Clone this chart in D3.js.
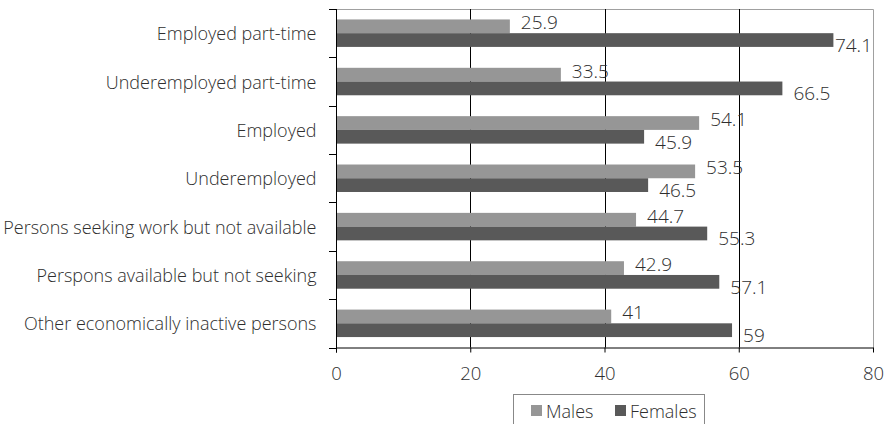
<!DOCTYPE html>
<html>
<head>
<meta charset="utf-8">
<script src="https://cdn.jsdelivr.net/npm/d3@7"></script>
<style>
  html, body { margin: 0; padding: 0; background: #fff; }
  svg { display: block; }
  text { font-family: "Open Sans", "Segoe UI", sans-serif; font-weight: 300; fill: #2e2e2e; }
</style>
</head>
<body>
<svg id="chart" width="889" height="424"></svg>
<script>
// Labour-force status by sex (percent)
const categories = [
  "Employed part-time",
  "Underemployed part-time",
  "Employed",
  "Underemployed",
  "Persons seeking work but not available",
  "Perspons available but not seeking",
  "Other economically inactive persons"
];
const males   = [25.9, 33.5, 54.1, 53.5, 44.7, 42.9, 41];
const females = [74.1, 66.5, 45.9, 46.5, 55.3, 57.1, 59];
const seriesNames = ["Males", "Females"];
const xTicks = [0, 20, 40, 60, 80];

const colors = { Males: "#969696", Females: "#595959" };

const svg = d3.select("#chart");
const plot = { left: 336, right: 874, top: 9, bottom: 347.5 };

const x = d3.scaleLinear().domain([0, 80]).range([plot.left, plot.right - 1]);
const y = d3.scaleBand().domain(categories).range([plot.top, plot.bottom]).padding(0);
const ySub = d3.scaleBand().domain(seriesNames)
  .range([0, y.bandwidth()]).paddingInner(0).paddingOuter(0.76);

const rows = categories.map((c, i) => ({ category: c, Males: males[i], Females: females[i] }));

// plot frame (top and right edges)
svg.append("path")
  .attr("d", `M${plot.left},${plot.top + 0.5}H${plot.right - 0.5}V${plot.bottom}`)
  .attr("fill", "none").attr("stroke", "#a0a0a0").attr("stroke-width", 1);

// vertical gridlines
svg.append("g").selectAll("line")
  .data(xTicks.filter(t => t > 0 && t < 80))
  .join("line")
  .attr("x1", d => Math.round(x(d)) + 0.5).attr("x2", d => Math.round(x(d)) + 0.5)
  .attr("y1", plot.top).attr("y2", plot.bottom)
  .attr("stroke", "#000").attr("stroke-width", 1);

// bars
const groups = svg.append("g").selectAll("g")
  .data(rows).join("g")
  .attr("transform", d => `translate(0,${y(d.category)})`);

groups.selectAll("rect")
  .data(d => seriesNames.map(s => ({ series: s, value: d[s] })))
  .join("rect")
  .attr("x", x(0))
  .attr("y", d => ySub(d.series))
  .attr("width", d => x(d.value) - x(0))
  .attr("height", ySub.bandwidth())
  .attr("fill", d => colors[d.series]);

// value labels, kept inside the plot area
const labelNudge = { Males: -4, Females: 5 };
groups.selectAll("text.val")
  .data(d => seriesNames.map(s => ({ series: s, value: d[s] })))
  .join("text")
  .attr("class", "val")
  .attr("font-size", 19)
  .attr("dominant-baseline", "central")
  .attr("y", d => ySub(d.series) + ySub.bandwidth() / 2 + labelNudge[d.series])
  .text(d => String(d.value))
  .each(function (d) {
    const w = this.getComputedTextLength();
    let lx = x(d.value) + 11;
    if (lx + w > plot.right - 2) lx = plot.right - 2 - w;
    d3.select(this).attr("x", lx);
  });

// bottom axis
const xAxis = svg.append("g")
  .attr("transform", `translate(0,${plot.bottom})`)
  .call(d3.axisBottom(x).tickValues(xTicks).tickSizeOuter(0).tickSizeInner(5).tickPadding(14));
xAxis.select(".domain").attr("stroke", "#000");
xAxis.selectAll(".tick line").attr("stroke", "#000");
xAxis.selectAll(".tick text").attr("font-size", 18.5).attr("fill", "#2e2e2e")
  .attr("font-family", "\"Open Sans\", sans-serif").attr("font-weight", 300);

// left axis with ticks at category boundaries
const yAxis = svg.append("g").attr("transform", `translate(${plot.left},0)`);
yAxis.append("line")
  .attr("x1", 0.5).attr("x2", 0.5).attr("y1", plot.top).attr("y2", plot.bottom + 5)
  .attr("stroke", "#000");
const bounds = categories.map(c => y(c)).concat([plot.bottom]);
yAxis.selectAll("line.bt").data(bounds).join("line")
  .attr("class", "bt")
  .attr("x1", -7).attr("x2", 0.5)
  .attr("y1", d => Math.round(d) + 0.5).attr("y2", d => Math.round(d) + 0.5)
  .attr("stroke", "#000");
yAxis.selectAll("text").data(categories).join("text")
  .attr("x", -19.5)
  .attr("y", d => y(d) + y.bandwidth() / 2)
  .attr("text-anchor", "end")
  .attr("dominant-baseline", "central")
  .attr("font-size", 18)
  .text(d => d);

// legend
const legend = svg.append("g").attr("transform", "translate(513,394)");
legend.append("rect")
  .attr("x", 0.5).attr("y", 0.5).attr("width", 191).attr("height", 32)
  .attr("fill", "#fff").attr("stroke", "#888");
const legendItems = [{ name: "Males", x: 18 }, { name: "Females", x: 102 }];
const li = legend.selectAll("g.item").data(legendItems).join("g")
  .attr("class", "item")
  .attr("transform", d => `translate(${d.x},11)`);
li.append("rect").attr("width", 11).attr("height", 11).attr("fill", d => colors[d.name]);
li.append("text").attr("x", 15).attr("y", 5.5)
  .attr("dominant-baseline", "central").attr("font-size", 18)
  .text(d => d.name);
</script>
</body>
</html>
